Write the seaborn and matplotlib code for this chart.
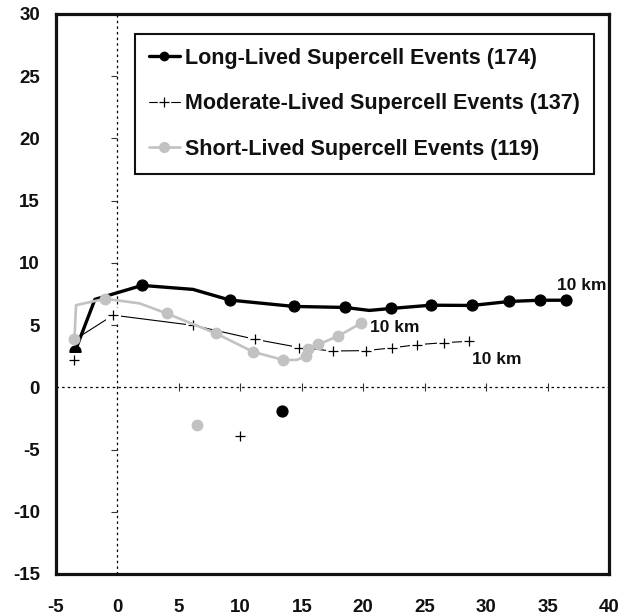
import matplotlib
matplotlib.use("Agg")
import matplotlib.pyplot as plt
from matplotlib.lines import Line2D
import numpy as np
import pandas as pd
import seaborn as sns

# ---- data -------------------------------------------------------------
# Long-lived supercell events: track vertices and which vertices carry a marker
long_x = [-3.45, -1.83, 2.0, 6.15, 9.16, 14.37, 18.5, 20.5, 22.3, 25.5, 28.85, 31.9, 34.4, 36.5]
long_y = [2.9, 7.07, 8.19, 7.87, 7.01, 6.5, 6.42, 6.18, 6.34, 6.6, 6.58, 6.9, 7.0, 7.0]
long_marked = [0, 2, 4, 5, 6, 8, 9, 10, 11, 12, 13]
long_iso = (13.4, -1.9)

# Moderate-lived supercell events
mod_x = [-3.5, -3.05, -0.34, 6.17, 11.2, 14.8, 17.5, 20.2, 22.35, 24.4, 26.6, 28.6]
mod_y = [2.17, 4.1, 5.8, 4.98, 3.86, 3.2, 2.92, 2.95, 3.17, 3.43, 3.59, 3.7]
mod_marked = [0, 2, 3, 4, 5, 6, 7, 8, 9, 10, 11]
mod_iso = (9.97, -3.9)

# Short-lived supercell events
short_x = [-3.5, -3.37, -1.0, 1.83, 4.0, 8.0, 11.05, 13.5, 14.58, 15.34, 15.5, 16.35, 17.97, 19.8]
short_y = [3.86, 6.6, 7.12, 6.74, 5.94, 4.34, 2.85, 2.2, 2.2, 2.52, 3.05, 3.45, 4.12, 5.14]
short_marked = [0, 2, 4, 5, 6, 7, 9, 10, 11, 12, 13]
short_iso = (6.5, -3.04)

labels = ["Long-Lived Supercell Events (174)",
          "Moderate-Lived Supercell Events (137)",
          "Short-Lived Supercell Events (119)"]
end_label = "10 km"

x_ticks = list(range(-5, 41, 5))
y_ticks = list(range(-15, 31, 5))

# ---- style ------------------------------------------------------------
sns.set_theme(style="white")
plt.rcParams["font.family"] = ["Liberation Sans", "DejaVu Sans"]
plt.rcParams["font.weight"] = "bold"

GRAY = "#c2c2c2"
INK = "#111111"

fig = plt.figure(figsize=(6.28, 6.16), dpi=100)
ax = fig.add_axes([56 / 628, 1 - 574 / 616, (609 - 56) / 628, (574 - 14) / 616])

# zero reference lines with small crossing ticks
ax.axhline(0, color="black", lw=0.9, ls=(0, (2, 2.5)), zorder=1)
ax.axvline(0, color="black", lw=0.9, ls=(0, (2, 2.5)), zorder=1)
inner_x = [t for t in x_ticks if t not in (-5, 0, 40)]
inner_y = [t for t in y_ticks if t not in (-15, 0, 30)]
ax.plot(inner_x, [0] * len(inner_x), ls="none", marker="|", ms=6, mew=0.8,
        color="#333333", zorder=1)
ax.plot([0] * len(inner_y), inner_y, ls="none", marker=0, ms=4, mew=0.8,
        color="#333333", zorder=1)

# long-lived track
lx, ly = np.array(long_x), np.array(long_y)
sns.lineplot(x=lx, y=ly, sort=False, estimator=None, color="black", lw=2.4,
             ax=ax, zorder=3)
ax.plot(lx[long_marked], ly[long_marked], ls="none", marker="o", ms=7.8,
        color="black", zorder=3)
ax.plot([long_iso[0]], [long_iso[1]], ls="none", marker="o", ms=7.8,
        color="black", zorder=3)

# moderate-lived track: white backing squares break the line at each marker
mx, my = np.array(mod_x), np.array(mod_y)
sns.lineplot(x=mx, y=my, sort=False, estimator=None, color="black", lw=0.8,
             marker="s", markersize=10, markerfacecolor="white",
             markeredgecolor="white", markevery=mod_marked, ax=ax, zorder=4)
ax.plot(mx[mod_marked], my[mod_marked], ls="none", marker="+", ms=7.5, mew=0.9,
        color="black", zorder=4)
ax.plot([mod_iso[0]], [mod_iso[1]], ls="none", marker="+", ms=7.5, mew=0.9,
        color="black", zorder=4)

# short-lived track
sx, sy = np.array(short_x), np.array(short_y)
sns.lineplot(x=sx, y=sy, sort=False, estimator=None, color=GRAY, lw=1.9,
             ax=ax, zorder=5)
ax.plot(sx[short_marked], sy[short_marked], ls="none", marker="o", ms=7.5,
        color=GRAY, zorder=5)
ax.plot([short_iso[0]], [short_iso[1]], ls="none", marker="o", ms=7.5,
        color=GRAY, zorder=5)

# end-of-track labels
lab_kw = dict(textcoords="offset points", fontsize=12.5, fontweight="bold",
              ha="left", va="center", color=INK, zorder=6)
ax.annotate(end_label, (lx[-1], ly[-1]), xytext=(-6.5, 10.5), **lab_kw)
ax.annotate(end_label, (sx[-1], sy[-1]), xytext=(6.5, -3), **lab_kw)
ax.annotate(end_label, (mx[-1], my[-1]), xytext=(2, -13), **lab_kw)

# axes frame and ticks
ax.set_xlim(-5, 40)
ax.set_ylim(-15, 30)
ax.set_xticks(x_ticks)
ax.set_yticks(y_ticks)
ax.set_xticklabels([str(t) for t in x_ticks])
ax.set_yticklabels([str(t) for t in y_ticks])
ax.tick_params(axis="both", length=0, labelsize=13.5, colors=INK)
ax.tick_params(axis="x", pad=18)
ax.tick_params(axis="y", pad=11.5)
for lab in ax.get_xticklabels() + ax.get_yticklabels():
    lab.set_fontweight("bold")
for sp in ax.spines.values():
    sp.set_visible(True)
    sp.set_color(INK)
    sp.set_linewidth(2.3)
ax.set_xlabel("")
ax.set_ylabel("")

# legend
h_long = Line2D([], [], color="black", lw=2.4, marker="o", ms=6)
h_mod = (Line2D([], [], color="black", lw=0.8, marker="s", ms=8,
                mfc="white", mec="white"),
         Line2D([], [], ls="none", marker="+", ms=7, mew=0.9, color="black"))
h_short = Line2D([], [], color=GRAY, lw=1.9, marker="o", ms=7)
leg = ax.legend([h_long, h_mod, h_short], labels, loc="upper left",
                bbox_to_anchor=(0.143, 0.964), borderaxespad=0,
                prop={"weight": "bold", "size": 15.5},
                handlelength=1.45, handletextpad=0.25, labelspacing=1.14,
                borderpad=0.64, fancybox=False, framealpha=1,
                edgecolor=INK)
leg.get_frame().set_linewidth(1.5)
for t in leg.get_texts():
    t.set_color(INK)

fig.savefig("out.png", dpi=100)
